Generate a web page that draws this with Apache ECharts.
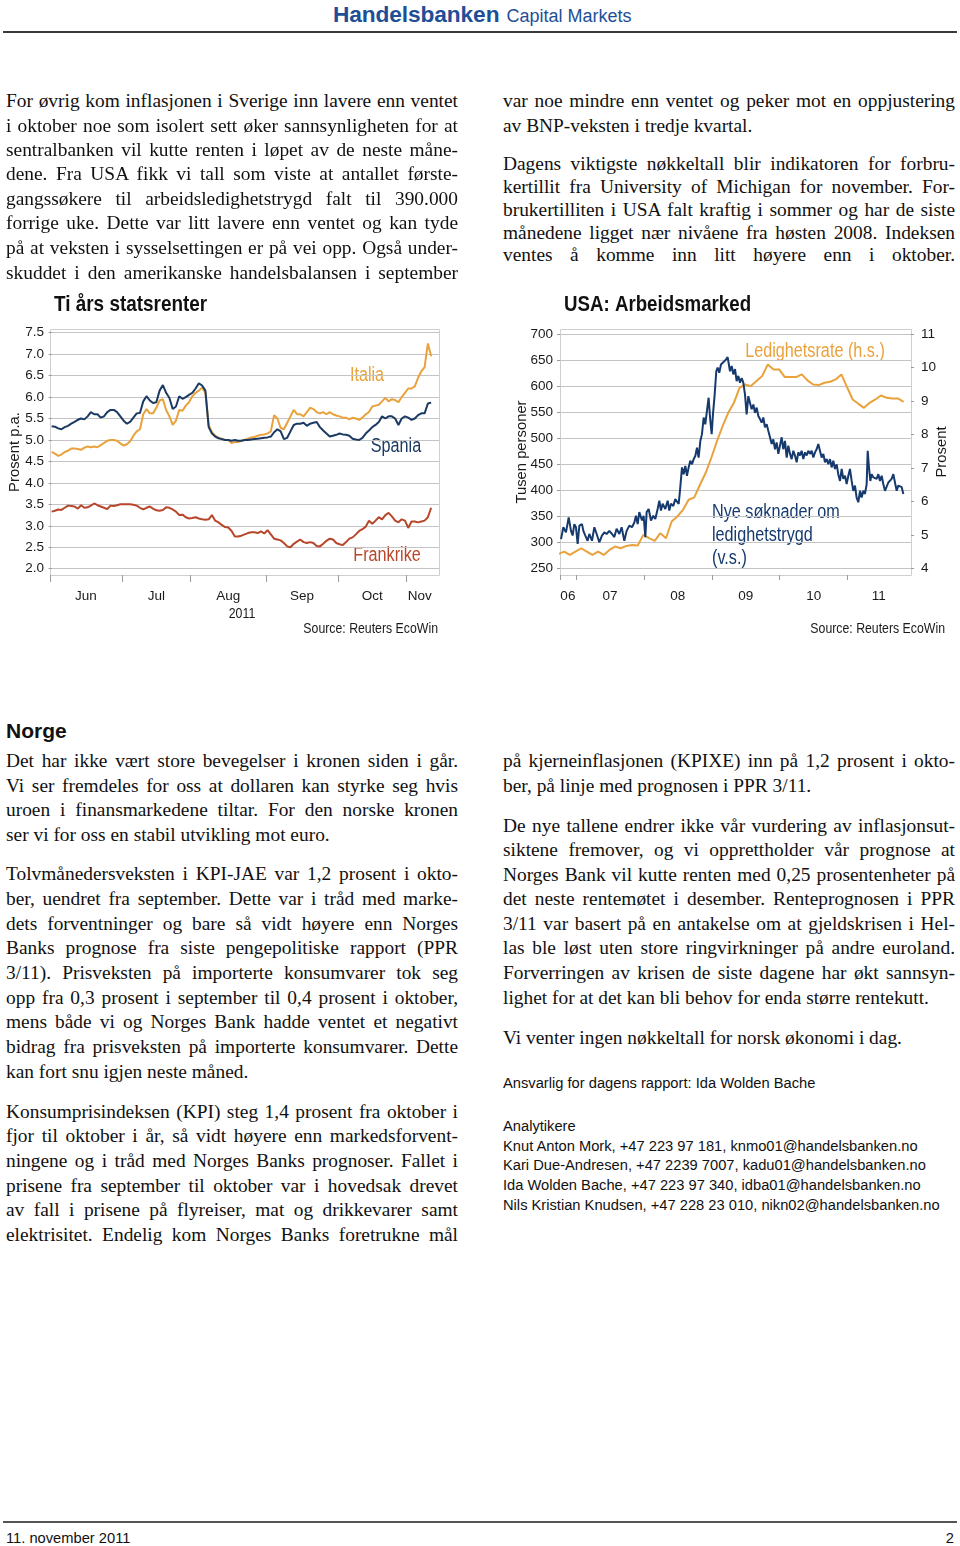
<!DOCTYPE html>
<html><head><meta charset="utf-8">
<script src="https://cdn.jsdelivr.net/npm/echarts@6/dist/echarts.min.js"></script>
<style>
body{margin:0;background:#fff;}
#page{position:relative;width:960px;height:1546px;overflow:hidden;background:#fff;}
.ln{position:absolute;font-family:'Liberation Serif','Times New Roman',serif;font-size:19.4px;line-height:24px;height:24px;white-space:nowrap;color:#111;}
.ss{position:absolute;font-family:'Liberation Sans',Arial,sans-serif;font-size:14.7px;line-height:19px;white-space:nowrap;color:#111;}
.sn{font-family:'Liberation Sans',Arial,sans-serif;}
#charts{position:absolute;left:0;top:280px;width:960px;height:370px;}
</style></head>
<body><div id="page">
<div class="sn" style="position:absolute;left:333px;top:1px;color:#1f4e96;white-space:nowrap;"><b style="font-size:22.7px;letter-spacing:-0.1px">Handelsbanken</b><span style="font-size:18px;margin-left:7px">Capital Markets</span></div>
<div style="position:absolute;left:3px;top:31px;width:954px;height:2px;background:#3a3a3a"></div>
<div id="charts"></div>
<div style="position:absolute;left:6px;top:719px;font-family:'Liberation Sans',Arial,sans-serif;font-weight:bold;font-size:21px;color:#111">Norge</div>
<div style="position:absolute;left:3px;top:1521px;width:954px;height:2px;background:#555"></div>
<div class="sn" style="position:absolute;left:6px;top:1530px;font-size:14.7px;color:#111">11. november 2011</div>
<div class="sn" style="position:absolute;right:6px;top:1530px;font-size:14.7px;color:#111">2</div>
</div>
<script>
// ---------- Chart 1 data: ten-year government bond yields, business days 1 Jun - 10 Nov 2011 ----------
const monthNames = ['Jun','Jul','Aug','Sep','Oct','Nov'];
const monthStartIdx = [0, 22, 43, 66, 88, 109];
const lastIdx = 117;
const italia = [
 4.72,4.68,4.63,4.66,4.72,4.75,4.8,4.8,4.79,4.77,4.82,4.85,4.83,4.85,4.83,4.88,4.93,4.98,5.0,5.0,4.98,4.92,
 4.87,4.9,4.97,5.1,5.2,5.25,5.6,5.72,5.62,5.62,5.75,5.92,5.95,5.7,5.55,5.35,5.45,5.7,5.68,5.8,5.88,
 6.02,6.1,6.15,6.22,6.1,5.35,5.18,5.1,5.05,5.03,5.0,5.0,4.93,4.95,4.95,4.98,5.0,5.03,5.06,5.07,5.1,5.12,5.13,
 5.15,5.2,5.58,5.5,5.28,5.25,5.4,5.55,5.7,5.6,5.6,5.55,5.65,5.75,5.72,5.65,5.62,5.65,5.6,5.65,5.6,5.57,
 5.55,5.52,5.52,5.48,5.52,5.5,5.47,5.52,5.6,5.65,5.78,5.8,5.82,5.9,5.98,5.9,5.95,5.93,5.88,6.0,6.1,
 6.2,6.2,6.25,6.45,6.6,6.7,7.25,6.95
];
const spania = [
 5.32,5.31,5.27,5.25,5.3,5.33,5.38,5.42,5.47,5.5,5.48,5.55,5.65,5.6,5.6,5.52,5.55,5.65,5.7,5.7,5.65,5.55,
 5.45,5.38,5.42,5.52,5.62,5.63,5.9,6.02,5.92,5.86,5.88,6.15,6.28,6.1,5.98,5.72,5.78,6.02,5.96,6.0,6.05,
 6.1,6.2,6.32,6.27,6.15,5.3,5.15,5.08,5.04,5.02,5.0,5.0,4.98,5.0,4.98,4.98,5.0,5.0,5.01,5.02,5.03,5.04,5.05,
 5.06,5.08,5.18,5.25,5.2,5.02,5.05,5.2,5.35,5.38,5.38,5.4,5.33,5.38,5.4,5.42,5.3,5.22,5.15,5.08,5.1,5.12,
 5.15,5.13,5.12,5.1,5.03,5.01,5.0,5.05,5.15,5.22,5.3,5.35,5.42,5.55,5.5,5.55,5.55,5.5,5.35,5.5,5.55,
 5.52,5.47,5.5,5.58,5.62,5.62,5.85,5.87
];
const frankrike = [
 3.33,3.35,3.38,3.37,3.42,3.47,3.46,3.45,3.4,3.48,3.42,3.43,3.47,3.52,3.48,3.45,3.42,3.39,3.47,3.46,3.48,3.5,
 3.5,3.5,3.5,3.49,3.47,3.42,3.38,3.42,3.45,3.4,3.36,3.35,3.37,3.43,3.42,3.38,3.33,3.25,3.26,3.2,3.17,
 3.18,3.2,3.17,3.15,3.14,3.15,3.25,3.12,3.08,3.02,2.97,2.96,2.88,2.75,2.75,2.77,2.8,2.83,2.85,2.85,2.83,2.87,2.82,
 2.9,2.8,2.7,2.68,2.66,2.6,2.52,2.5,2.58,2.63,2.68,2.62,2.6,2.62,2.6,2.53,2.52,2.58,2.65,2.7,2.68,2.6,
 2.57,2.55,2.62,2.7,2.73,2.8,2.88,2.92,2.98,3.12,3.05,3.12,3.2,3.15,3.25,3.3,3.22,3.12,3.08,3.15,3.12,
 2.95,3.1,3.1,3.08,3.1,3.12,3.2,3.42
];
const yTicks1 = [2.0, 7.5, 0.5];

// ---------- Chart 2 data: US initial jobless claims (thousands, weekly) and unemployment rate (%) ----------
const yearLabels = ['06','07','08','09','10','11'];
const yearLabelPos = [2006.88, 2007.5, 2008.5, 2009.5, 2010.5, 2011.46];
const yearTickPos = [2006.764, 2007, 2008, 2009, 2010, 2011];
const claimsT = [
 2006.779,2006.813,2006.852,2006.892,2006.926,2006.950,2006.975,2006.999,2007.024,2007.049,2007.088,2007.108,2007.137,2007.171,2007.196,
 2007.235,2007.270,2007.304,2007.343,2007.382,2007.417,2007.451,2007.490,2007.530,2007.564,2007.598,2007.638,2007.672,2007.711,2007.746,
 2007.785,2007.824,2007.859,2007.883,2007.908,2007.932,2007.972,2007.996,2008.021,2008.040,2008.070,2008.104,2008.138,2008.168,2008.202,
 2008.227,2008.251,2008.276,2008.315,2008.350,2008.374,2008.399,2008.433,2008.462,2008.482,2008.512,2008.531,2008.561,2008.585,2008.610,
 2008.634,2008.659,2008.683,2008.708,2008.733,2008.757,2008.782,2008.806,2008.831,2008.855,2008.880,2008.904,2008.929,2008.953,2008.978,
 2008.998,2009.017,2009.042,2009.066,2009.086,2009.110,2009.135,2009.159,2009.184,2009.209,2009.233,
 2009.268,2009.293,2009.317,2009.342,2009.366,2009.391,2009.415,2009.440,2009.464,2009.489,2009.513,2009.538,2009.563,2009.587,2009.612,
 2009.636,2009.661,2009.685,2009.710,2009.734,2009.759,2009.783,2009.808,2009.833,2009.857,2009.882,2009.906,2009.931,2009.955,2009.980,
 2010.004,2010.029,2010.053,2010.078,2010.103,2010.127,2010.152,2010.176,2010.201,2010.225,2010.250,2010.274,2010.299,2010.323,2010.348,
 2010.373,2010.397,2010.422,2010.446,2010.471,2010.495,2010.520,2010.544,2010.569,2010.593,2010.618,2010.643,2010.667,2010.692,2010.716,
 2010.741,2010.765,2010.790,2010.814,2010.839,2010.863,2010.888,2010.913,2010.937,2010.962,2010.986,2011.011,2011.035,2011.060,2011.084,
 2011.109,2011.133,2011.158,2011.183,2011.207,2011.232,2011.256,2011.281,2011.296,2011.315,2011.335,2011.354,2011.379,2011.404,2011.428,
 2011.453,2011.477,2011.502,2011.526,2011.551,2011.576,2011.600,2011.625,2011.649,2011.674,2011.698,2011.723,2011.747,2011.772,2011.797,2011.821
];
const claimsV = [
 306,329,319,348,322,313,335,329,297,332,335,322,313,303,316,
 303,329,316,300,313,319,316,322,316,310,326,316,329,303,322,
 332,329,338,351,335,358,342,351,310,358,364,342,351,345,364,
 380,361,374,364,380,361,374,370,383,386,374,399,444,431,447,
 428,444,457,450,460,466,482,463,495,508,540,527,553,578,534,
 508,546,584,629,636,626,642,639,648,652,656,
 629,639,623,633,610,620,607,616,607,584,546,581,568,556,565,
 549,559,543,537,530,540,521,527,514,502,489,498,479,492,470,
 486,502,479,495,463,486,470,460,476,467,454,473,467,476,460,
 473,467,476,470,476,463,473,479,489,476,463,470,454,460,450,
 460,444,457,441,450,431,418,441,422,428,412,428,441,418,399,
 409,386,377,399,386,399,393,412,476,444,418,431,425,428,422,
 431,418,428,412,399,402,415,412,422,431,415,399,409,412,406,393
];
const unempStart = [2006, 9]; // first value = September 2006 (monthly, plotted at month end)
const unemployment = [
 4.43,4.50,4.40,4.50,4.60,4.50,4.40,4.50,4.40,4.55,4.65,4.60,4.67,4.70,4.68,5.0,
 4.9,4.82,5.05,4.9,5.4,5.55,5.75,6.05,6.12,6.5,6.85,7.3,
 7.8,8.25,8.65,8.95,9.4,9.5,9.45,9.6,9.75,10.1,9.95,9.95,
 9.72,9.72,9.72,9.8,9.62,9.5,9.48,9.55,9.58,9.65,9.8,9.42,
 9.05,8.92,8.8,8.95,9.05,9.17,9.1,9.08,9.08,8.98
];

// ---------- page text ----------
const page = document.getElementById('page');
const L = 6, R = 503, W = 452;
const textLines = [
 [L,100,'For øvrig kom inflasjonen i Sverige inn lavere enn ventet',1],
 [L,125,'i oktober noe som isolert sett øker sannsynligheten for at',1],
 [L,149,'sentralbanken vil kutte renten i løpet av de neste måne-',1],
 [L,173,'dene. Fra USA fikk vi tall som viste at antallet første-',1],
 [L,198,'gangssøkere til arbeidsledighetstrygd falt til 390.000',1],
 [L,222,'forrige uke. Dette var litt lavere enn ventet og kan tyde',1],
 [L,247,'på at veksten i sysselsettingen er på vei opp. Også under-',1],
 [L,272,'skuddet i den amerikanske handelsbalansen i september',1],
 [R,100,'var noe mindre enn ventet og peker mot en oppjustering',1],
 [R,125,'av BNP-veksten i tredje kvartal.',0],
 [R,163,'Dagens viktigste nøkkeltall blir indikatoren for forbru-',1],
 [R,186,'kertillit fra University of Michigan for november. For-',1],
 [R,209,'brukertilliten i USA falt kraftig i sommer og har de siste',1],
 [R,232,'månedene ligget nær nivåene fra høsten 2008. Indeksen',1],
 [R,254,'ventes å komme inn litt høyere enn i oktober.',1],
 [L,760,'Det har ikke vært store bevegelser i kronen siden i går.',1],
 [L,785,'Vi ser fremdeles for oss at dollaren kan styrke seg hvis',1],
 [L,809,'uroen i finansmarkedene tiltar. For den norske kronen',1],
 [L,834,'ser vi for oss en stabil utvikling mot euro.',0],
 [L,873,'Tolvmånedersveksten i KPI-JAE var 1,2 prosent i okto-',1],
 [L,898,'ber, uendret fra september. Dette var i tråd med marke-',1],
 [L,923,'dets forventninger og bare så vidt høyere enn Norges',1],
 [L,947,'Banks prognose fra siste pengepolitiske rapport (PPR',1],
 [L,972,'3/11). Prisveksten på importerte konsumvarer tok seg',1],
 [L,997,'opp fra 0,3 prosent i september til 0,4 prosent i oktober,',1],
 [L,1021,'mens både vi og Norges Bank hadde ventet et negativt',1],
 [L,1046,'bidrag fra prisveksten på importerte konsumvarer. Dette',1],
 [L,1071,'kan fort snu igjen neste måned.',0],
 [L,1111,'Konsumprisindeksen (KPI) steg 1,4 prosent fra oktober i',1],
 [L,1135,'fjor til oktober i år, så vidt høyere enn markedsforvent-',1],
 [L,1160,'ningene og i tråd med Norges Banks prognoser. Fallet i',1],
 [L,1185,'prisene fra september til oktober var i hovedsak drevet',1],
 [L,1209,'av fall i prisene på flyreiser, mat og drikkevarer samt',1],
 [L,1234,'elektrisitet. Endelig kom Norges Banks foretrukne mål',1],
 [R,760,'på kjerneinflasjonen (KPIXE) inn på 1,2 prosent i okto-',1],
 [R,785,'ber, på linje med prognosen i PPR 3/11.',0],
 [R,825,'De nye tallene endrer ikke vår vurdering av inflasjonsut-',1],
 [R,849,'siktene fremover, og vi opprettholder vår prognose at',1],
 [R,874,'Norges Bank vil kutte renten med 0,25 prosentenheter på',1],
 [R,898,'det neste rentemøtet i desember. Renteprognosen i PPR',1],
 [R,923,'3/11 var basert på en antakelse om at gjeldskrisen i Hel-',1],
 [R,947,'las ble løst uten store ringvirkninger på andre euroland.',1],
 [R,972,'Forverringen av krisen de siste dagene har økt sannsyn-',1],
 [R,997,'lighet for at det kan bli behov for enda større rentekutt.',0],
 [R,1037,'Vi venter ingen nøkkeltall for norsk økonomi i dag.',0]
];
textLines.forEach(([x, yc, t, j]) => {
  const d = document.createElement('div');
  d.className = 'ln';
  d.style.left = x + 'px'; d.style.top = (yc - 11.5) + 'px';
  const s = document.createElement('span'); s.textContent = t; d.appendChild(s);
  page.appendChild(d);
  if (j) {
    const w = s.getBoundingClientRect().width;
    const n = (t.match(/ /g) || []).length;
    if (w > W) s.style.letterSpacing = ((W - w) / t.length) + 'px';
    else if (n) s.style.wordSpacing = ((W - w) / n) + 'px';
  }
});
const sansLines = [
 [1083,'Ansvarlig for dagens rapport: Ida Wolden Bache'],
 [1126,'Analytikere'],
 [1146,'Knut Anton Mork, +47 223 97 181, knmo01@handelsbanken.no'],
 [1165,'Kari Due-Andresen, +47 2239 7007, kadu01@handelsbanken.no'],
 [1185,'Ida Wolden Bache, +47 223 97 340, idba01@handelsbanken.no'],
 [1205,'Nils Kristian Knudsen, +47 228 23 010, nikn02@handelsbanken.no']
];
sansLines.forEach(([yc, t]) => {
  const d = document.createElement('div');
  d.className = 'ss'; d.style.left = R + 'px'; d.style.top = (yc - 9.5) + 'px';
  d.textContent = t; page.appendChild(d);
});

// ---------- charts ----------
const FS = "'Liberation Sans',Arial,sans-serif";
const NARROW = 0.82;
const C_IT = '#e9a23b', C_ES = '#1b3a63', C_FR = '#b8462b', C_CL = '#163a6e';
const GRID_C = '#c4c4c4', TICK_C = '#9a9a9a', TXT = '#1a1a1a';

const monthTicks = monthStartIdx.map(i => i - 0.5);
const monthLabelPos = monthStartIdx.map((s, k) => (s + (k < monthStartIdx.length - 1 ? monthStartIdx[k + 1] : lastIdx)) / 2 - 0.5);
const unempT = unemployment.map((v, k) => unempStart[0] + (unempStart[1] + k) / 12 - 0.008);

function txt(x, y, text, font, fill, align, extra) {
  return Object.assign({type: 'text', x: x, y: y, silent: true, scaleX: NARROW,
    style: {text: text, font: font, fill: fill, align: align || 'left', verticalAlign: 'middle'}}, extra || {});
}
const lbl = {fontFamily: FS, fontSize: 13.5, color: TXT};
const chart = echarts.init(document.getElementById('charts'));
chart.setOption({
  animation: false,
  backgroundColor: 'transparent',
  grid: [
    {left: 50, top: 52.7, width: 389, height: 236, containLabel: false, outerBoundsMode: 'none'},
    {left: 560, top: 54.3, width: 351, height: 234, containLabel: false, outerBoundsMode: 'none'}
  ],
  xAxis: [
    {gridIndex: 0, type: 'value', min: -0.5, max: 118.4, offset: 6.3,
     axisLine: {show: false}, splitLine: {show: false},
     axisTick: {show: true, customValues: monthTicks, length: 7, lineStyle: {color: TICK_C}},
     axisLabel: Object.assign({customValues: monthLabelPos, margin: 14,
       formatter: v => monthNames[monthLabelPos.indexOf(v)] || ''}, lbl)},
    {gridIndex: 1, type: 'value', min: 2006.764, max: 2011.934, offset: 6.7,
     axisLine: {show: false}, splitLine: {show: false},
     axisTick: {show: true, customValues: yearTickPos, length: 5, lineStyle: {color: TICK_C}},
     axisLabel: Object.assign({customValues: yearLabelPos, margin: 14,
       formatter: v => yearLabels[yearLabelPos.indexOf(v)] || ''}, lbl)}
  ],
  yAxis: [
    {gridIndex: 0, type: 'value', min: yTicks1[0], max: yTicks1[1], interval: yTicks1[2],
     axisLine: {show: false}, axisTick: {show: true, length: 3, lineStyle: {color: TICK_C}},
     axisLabel: Object.assign({margin: 6, formatter: v => v.toFixed(1)}, lbl),
     splitLine: {show: true, lineStyle: {color: GRID_C, width: 1}}},
    {gridIndex: 1, type: 'value', min: 250, max: 700, interval: 50,
     axisLine: {show: false}, axisTick: {show: true, length: 3, lineStyle: {color: TICK_C}},
     axisLabel: Object.assign({margin: 7}, lbl),
     splitLine: {show: true, lineStyle: {color: GRID_C, width: 1}}},
    {gridIndex: 1, type: 'value', position: 'right', min: 4, max: 11, interval: 1,
     axisLine: {show: false}, axisTick: {show: true, length: 3, lineStyle: {color: TICK_C}},
     axisLabel: Object.assign({margin: 10}, lbl),
     splitLine: {show: false}}
  ],
  series: [
    {name: 'Frankrike', type: 'line', xAxisIndex: 0, yAxisIndex: 0, showSymbol: false,
     lineStyle: {color: C_FR, width: 2}, data: frankrike.map((v, i) => [i, v])},
    {name: 'Italia', type: 'line', xAxisIndex: 0, yAxisIndex: 0, showSymbol: false,
     lineStyle: {color: C_IT, width: 2}, data: italia.map((v, i) => [i, v])},
    {name: 'Spania', type: 'line', xAxisIndex: 0, yAxisIndex: 0, showSymbol: false,
     lineStyle: {color: C_ES, width: 2}, data: spania.map((v, i) => [i, v])},
    {name: 'Ledighetsrate (h.s.)', type: 'line', xAxisIndex: 1, yAxisIndex: 2, showSymbol: false,
     lineStyle: {color: C_IT, width: 2}, data: unempT.map((t, k) => [t, unemployment[k]])},
    {name: 'Nye søknader om ledighetstrygd (v.s.)', type: 'line', xAxisIndex: 1, yAxisIndex: 1, showSymbol: false,
     lineStyle: {color: C_CL, width: 2}, data: claimsT.map((t, k) => [t, claimsV[k]])}
  ],
  graphic: [
    {type: 'rect', silent: true, z: -1, shape: {x: 50.5, y: 49.5, width: 389, height: 246},
     style: {fill: 'none', stroke: '#cfcfcf', lineWidth: 1}},
    {type: 'rect', silent: true, z: -1, shape: {x: 560.5, y: 49.5, width: 351, height: 246},
     style: {fill: 'none', stroke: '#cfcfcf', lineWidth: 1}},
    txt(54, 25, 'Ti års statsrenter', 'bold 22px ' + FS, '#111', 'left', {scaleX: 0.86}),
    txt(564, 25, 'USA: Arbeidsmarked', 'bold 22px ' + FS, '#111', 'left', {scaleX: 0.85}),
    txt(438, 349, 'Source: Reuters EcoWin', '15px ' + FS, TXT, 'right'),
    txt(945, 349, 'Source: Reuters EcoWin', '15px ' + FS, TXT, 'right'),
    txt(242, 334, '2011', '15px ' + FS, TXT, 'center'),
    txt(15, 172, 'Prosent p.a.', '14.8px ' + FS, TXT, 'center', {rotation: Math.PI / 2, scaleX: 1}),
    txt(522, 172, 'Tusen personer', '14.8px ' + FS, TXT, 'center', {rotation: Math.PI / 2, scaleX: 1}),
    txt(942, 172, 'Prosent', '14.8px ' + FS, TXT, 'center', {rotation: Math.PI / 2, scaleX: 1}),
    txt(367, 95, 'Italia', '20px ' + FS, C_IT, 'center', {scaleX: 0.81}),
    txt(396, 166, 'Spania', '20px ' + FS, C_ES, 'center', {scaleX: 0.81}),
    txt(387, 275, 'Frankrike', '20px ' + FS, C_FR, 'center', {scaleX: 0.81}),
    txt(815, 71, 'Ledighetsrate (h.s.)', '20px ' + FS, C_IT, 'center', {scaleX: 0.81}),
    txt(712, 232, 'Nye søknader om', '20px ' + FS, C_CL, 'left', {scaleX: 0.81}),
    txt(712, 255.5, 'ledighetstrygd', '20px ' + FS, C_CL, 'left', {scaleX: 0.81}),
    txt(712, 278.5, '(v.s.)', '20px ' + FS, C_CL, 'left', {scaleX: 0.81})
  ]
});
</script>
</body></html>
